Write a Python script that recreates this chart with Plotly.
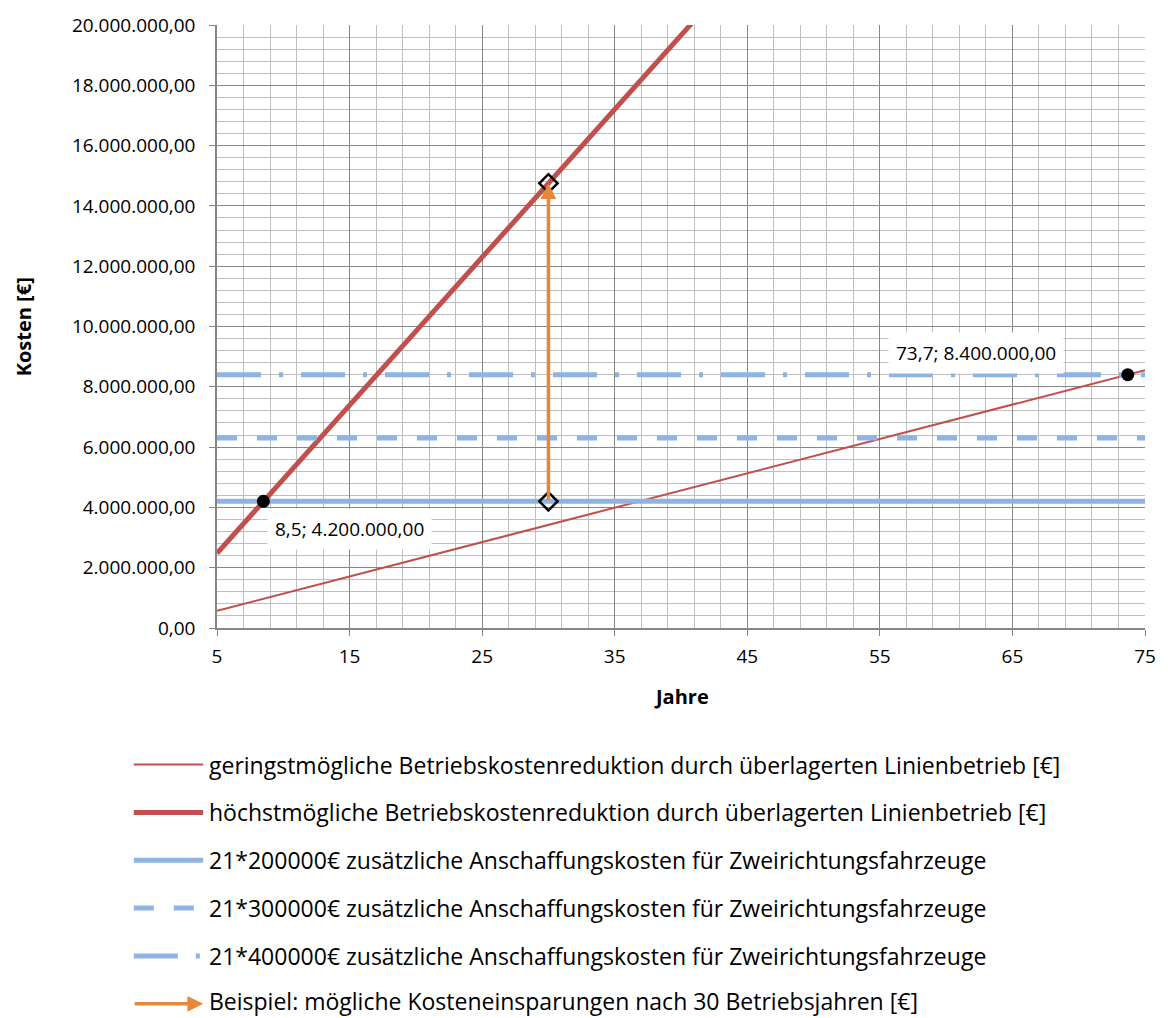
import plotly.graph_objects as go

# --- data -------------------------------------------------------------
years_span = [5, 75]
low_reduction = [570000, 8550000]          # geringstmögliche Reduktion
high_years = [5, 41]
high_reduction = [2480000, 20150000]       # höchstmögliche Reduktion

invest_levels = [4200000, 6300000, 8400000]  # 21 * 200k / 300k / 400k

break_even_x = [8.5, 73.7]
break_even_y = [4200000, 8400000]

example_year = 30
example_low = 4200000
example_high = 14750000

legend_labels = [
    "geringstmögliche Betriebskostenreduktion durch überlagerten Linienbetrieb [€]",
    "höchstmögliche Betriebskostenreduktion durch überlagerten Linienbetrieb [€]",
    "21*200000€ zusätzliche Anschaffungskosten für Zweirichtungsfahrzeuge",
    "21*300000€ zusätzliche Anschaffungskosten für Zweirichtungsfahrzeuge",
    "21*400000€ zusätzliche Anschaffungskosten für Zweirichtungsfahrzeuge",
    "Beispiel: mögliche Kosteneinsparungen nach 30 Betriebsjahren [€]",
]

RED = "#C0504D"
BLUE = "#8EB4E3"
ORANGE = "#E8873A"
FONT = "Open Sans"

W, H = 1168, 1018
L, R, T, B = 217, 14, 23, 390
PW, PH = W - L - R, H - T - B


def px_x(p):
    return (p - L) / PW


def px_y(p):
    return (H - B - p) / PH


def de_num(v, dec):
    s = f"{v:,.{dec}f}"
    return s.replace(",", "X").replace(".", ",").replace("X", ".")


invest_dash = ["solid", "20px,20px", "44px,18px,4px,18px"]

fig = go.Figure()

fig.add_trace(go.Scatter(x=years_span, y=low_reduction, mode="lines",
                         line=dict(color=RED, width=2), showlegend=False,
                         hoverinfo="skip"))
fig.add_trace(go.Scatter(x=high_years, y=high_reduction, mode="lines",
                         line=dict(color=RED, width=5), showlegend=False,
                         hoverinfo="skip"))
for lvl, dash in zip(invest_levels, invest_dash):
    fig.add_trace(go.Scatter(x=years_span, y=[lvl, lvl], mode="lines",
                             line=dict(color=BLUE, width=5, dash=dash),
                             showlegend=False, hoverinfo="skip"))

# break-even points
fig.add_trace(go.Scatter(x=break_even_x, y=break_even_y, mode="markers",
                         marker=dict(color="black", size=13),
                         showlegend=False, hoverinfo="skip"))

# example savings arrow
fig.add_annotation(x=example_year, y=example_high, ax=example_year, ay=example_low,
                   xref="x", yref="y", axref="x", ayref="y", text="",
                   showarrow=True, arrowhead=2, arrowsize=0.9, arrowwidth=3.5,
                   arrowcolor=ORANGE, standoff=0)
fig.add_trace(go.Scatter(x=[example_year, example_year], y=[example_low, example_high],
                         mode="markers",
                         marker=dict(symbol="diamond-open", size=14, color="black",
                                     line=dict(width=2.5, color="black")),
                         showlegend=False, hoverinfo="skip"))

# data labels at the break-even points
label_shift = [(86, -28), (-152, 22)]
for bx, by, (sx, sy) in zip(break_even_x, break_even_y, label_shift):
    fig.add_annotation(x=bx, y=by, xref="x", yref="y",
                       text=f"{de_num(bx, 1)}; {de_num(by, 2)}",
                       showarrow=False, xshift=sx, yshift=sy,
                       bgcolor="white", borderpad=7,
                       font=dict(family=FONT, size=19, color="black"))

# axis titles
fig.add_annotation(x=0.5, y=px_y(697), xref="paper", yref="paper", text="<b>Jahre</b>",
                   showarrow=False, xanchor="center", yanchor="middle",
                   font=dict(family=FONT, size=20, color="black"))
fig.add_annotation(x=px_x(22), y=0.5, xref="paper", yref="paper",
                   text="<b>Kosten [€]</b>", textangle=-90, showarrow=False,
                   xanchor="center", yanchor="middle",
                   font=dict(family=FONT, size=20, color="black"))

# legend below the chart
row_y = [765, 813, 861, 909, 957, 1005]
text_y = [765, 813, 861, 909, 957, 1002]
legend_styles = [
    (RED, 2, "solid"),
    (RED, 5, "solid"),
    (BLUE, 5, "solid"),
    (BLUE, 5, "20px,20px"),
    (BLUE, 5, "44px,18px,4px,18px"),
]
x0, x1, xt = px_x(133), px_x(203), px_x(208)
for (col, wid, dash), py in zip(legend_styles, row_y[:5]):
    fig.add_shape(type="line", xref="paper", yref="paper",
                  x0=x0, x1=x1, y0=px_y(py), y1=px_y(py),
                  line=dict(color=col, width=wid, dash=dash))
fig.add_annotation(x=x1, y=px_y(row_y[5]), xref="paper", yref="paper",
                   ax=-70, ay=0, text="", showarrow=True, arrowhead=2,
                   arrowsize=0.9, arrowwidth=3.5, arrowcolor=ORANGE, standoff=0)
for txt, py in zip(legend_labels, text_y):
    fig.add_annotation(x=xt, y=px_y(py), xref="paper", yref="paper", text=txt,
                       showarrow=False, xanchor="left", yanchor="middle",
                       borderpad=0,
                       font=dict(family=FONT, size=23, color="black"))

fig.update_layout(
    width=W, height=H, autosize=False,
    margin=dict(l=L, r=R, t=T, b=B, pad=0),
    paper_bgcolor="white", plot_bgcolor="white",
    separators=",.",
    showlegend=False,
    font=dict(family=FONT, size=19, color="black"),
)
fig.update_xaxes(
    range=[5, 75], tick0=5, dtick=10, tickmode="linear",
    showgrid=True, gridcolor="#868686", gridwidth=1,
    minor=dict(tick0=5, dtick=2, showgrid=True, gridcolor="#BFBFBF", gridwidth=1),
    showline=True, linecolor="#868686", linewidth=1.5,
    ticks="outside", ticklen=6, tickcolor="#868686",
    tickfont=dict(family=FONT, size=19, color="black"),
    zeroline=False, ticklabelstandoff=4,
)
fig.update_yaxes(
    range=[0, 20000000], tick0=0, dtick=2000000, tickmode="linear",
    tickformat=",.2f",
    showgrid=True, gridcolor="#868686", gridwidth=1,
    minor=dict(tick0=0, dtick=400000, showgrid=True, gridcolor="#BFBFBF", gridwidth=1),
    showline=True, linecolor="#868686", linewidth=1.5,
    ticks="outside", ticklen=6, tickcolor="#868686",
    tickfont=dict(family=FONT, size=19, color="black"),
    zeroline=False, ticklabelstandoff=10,
)

fig.write_html("out.html")
